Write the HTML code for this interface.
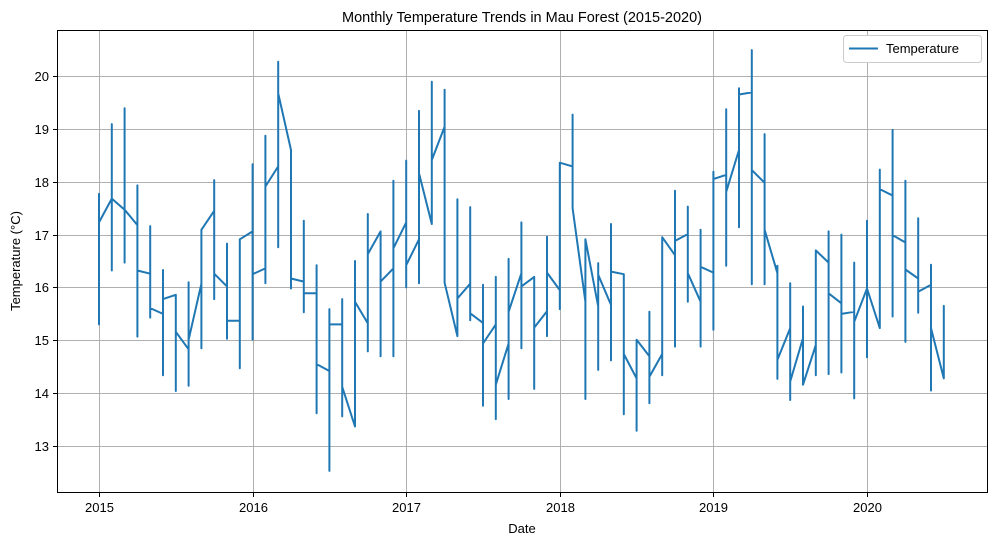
<!DOCTYPE html>
<html><head><meta charset="utf-8"><style>
body{margin:0;background:#fff;}
svg text{font-family:"Liberation Sans","DejaVu Sans",sans-serif;fill:#000;}
</style></head><body>
<svg id="chart" width="997" height="545" xmlns="http://www.w3.org/2000/svg">
<text x="522" y="22" font-size="14.5" text-anchor="middle">Monthly Temperature Trends in Mau Forest (2015-2020)</text>
<g id="grid"></g>
<g id="series"></g>
<rect x="57.5" y="30.5" width="930" height="462" fill="none" stroke="#000" stroke-width="1"/>
<g id="ticks"></g>
<text x="522" y="533" font-size="13" text-anchor="middle">Date</text>
<text x="0" y="0" font-size="13" text-anchor="middle" transform="translate(20,261) rotate(-90)">Temperature (°C)</text>
<g>
<rect x="843.5" y="35.5" width="138" height="27" rx="3" fill="#fff" stroke="#ccc"/>
<line x1="849" y1="48.5" x2="878" y2="48.5" stroke="#1f77b4" stroke-width="2"/>
<text x="886" y="53" font-size="13">Temperature</text>
</g>
</svg>
<script>
// per-month values (°C), months since Jan 2015
const entryVals=[15.30,17.68,17.47,17.18,16.26,15.50,15.86,14.83,16.07,17.45,16.02,15.37,17.06,16.36,18.29,18.60,16.11,15.89,14.42,15.30,13.37,15.32,17.06,16.36,17.23,16.91,17.20,19.04,15.08,16.07,15.33,15.30,14.94,16.27,16.20,15.55,15.95,18.29,15.73,15.64,15.67,16.25,14.28,14.70,14.74,16.61,17.01,15.73,16.28,18.13,18.60,19.69,17.98,16.27,15.23,15.04,14.91,16.47,15.70,15.54,15.98,15.23,17.74,16.85,16.17,16.05,14.28];
const maxVals=[17.77,19.09,19.39,17.93,17.16,16.33,15.86,16.10,17.09,18.03,16.83,16.91,18.33,18.87,20.27,18.60,17.26,16.42,15.59,15.78,16.50,17.39,17.06,18.02,18.40,19.34,19.89,19.74,17.67,17.52,16.05,16.20,16.54,17.23,16.20,16.96,18.36,19.27,16.91,16.46,17.20,16.25,15.01,15.54,16.95,17.83,17.53,17.09,18.19,19.37,19.77,20.49,18.90,16.41,16.08,15.64,16.70,17.06,17.00,16.47,17.26,18.23,18.98,18.02,17.31,16.43,15.65];
const minVals=[15.30,16.32,16.47,15.07,15.43,14.34,14.04,14.14,14.85,15.78,15.03,14.47,15.01,16.08,16.76,15.98,15.53,13.62,12.53,13.56,13.37,14.79,14.70,14.70,16.00,16.08,17.20,16.09,15.08,15.38,13.76,13.51,13.89,14.85,14.08,15.08,15.59,17.50,13.89,14.44,14.62,13.60,13.29,13.81,14.34,14.88,15.73,14.88,15.20,16.41,17.14,16.06,16.06,14.27,13.87,14.16,14.34,14.36,14.39,13.90,14.68,15.23,15.45,14.97,15.52,14.05,14.28];
const exitVals=[17.23,17.68,17.47,16.32,15.61,15.78,15.16,15.01,17.09,16.26,15.37,16.91,16.25,17.91,19.67,16.17,15.89,14.55,15.30,14.12,15.73,16.63,16.11,16.74,16.42,18.16,18.41,16.09,15.79,15.51,14.94,14.16,15.54,16.02,15.24,16.28,18.36,17.50,16.91,16.24,16.30,14.74,15.01,14.31,16.95,16.88,16.27,16.39,18.05,17.81,19.65,18.22,17.09,14.63,14.22,14.16,16.70,15.89,15.50,15.35,15.98,17.86,16.99,16.34,15.92,15.23,14.28];
const yTicks=[13,14,15,16,17,18,19,20];
const xTickYears=[2015,2016,2017,2018,2019,2020];

const NS="http://www.w3.org/2000/svg";
function xScale(m){return 99+m*12.8;}
function yScale(v){return 76+(20-v)*52.86;}
const grid=document.getElementById('grid'),ticks=document.getElementById('ticks'),series=document.getElementById('series');
function mk(tag,attrs,parent){const e=document.createElementNS(NS,tag);for(const k in attrs)e.setAttribute(k,attrs[k]);parent.appendChild(e);return e;}
yTicks.forEach(v=>{
  const y=Math.round(yScale(v))+0.5;
  const g=mk('line',{x1:57.5,x2:987.5,y1:y,y2:y,stroke:'#b0b0b0','stroke-width':1},grid);
  
  
  mk('line',{x1:53,x2:57.5,y1:y,y2:y,stroke:'#000'},ticks);
  const t=mk('text',{x:49,y:y+4.5,'font-size':13,'text-anchor':'end'},ticks);
  t.textContent=v;
  
  
});
xTickYears.forEach(yr=>{
  const x=Math.round(xScale((yr-2015)*12))+0.5;
  const g=mk('line',{x1:x,x2:x,y1:30.5,y2:492.5,stroke:'#b0b0b0','stroke-width':1},grid);
  
  
  mk('line',{x1:x,x2:x,y1:492.5,y2:497,stroke:'#000'},ticks);
  const t=mk('text',{x:x,y:512,'font-size':13,'text-anchor':'middle'},ticks);
  t.textContent=yr;
  
  
});
let d='';
for(let i=0;i<entryVals.length;i++){
  const x=xScale(i).toFixed(1);
  [entryVals[i],maxVals[i],minVals[i],exitVals[i]].forEach((v,j)=>{
    d+=(i===0&&j===0?'M':'L')+x+','+yScale(v).toFixed(1);
  });
}
const p=mk('path',{d:d,fill:'none',stroke:'#1f77b4','stroke-width':2,'stroke-linejoin':'round'},series);


</script>
</body></html>
